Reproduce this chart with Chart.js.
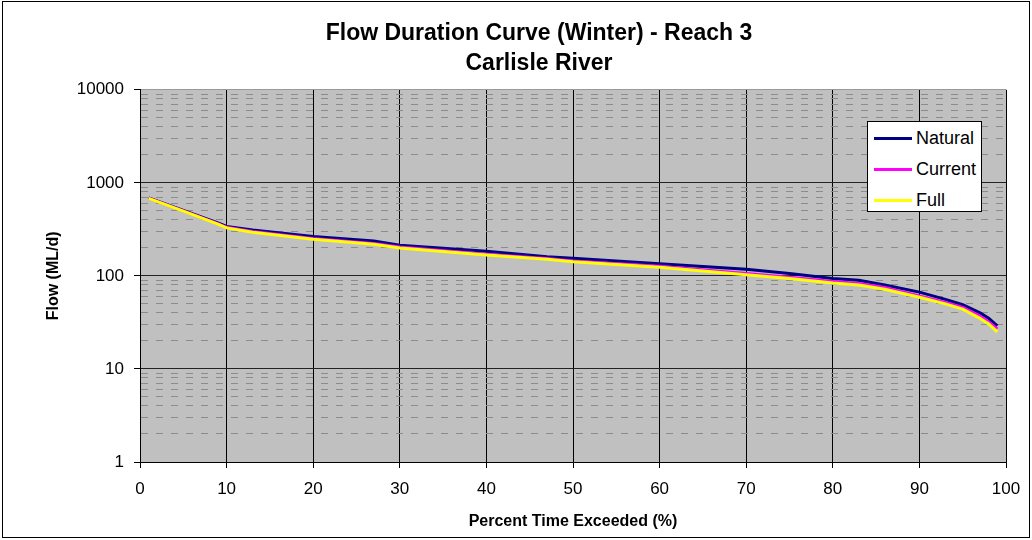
<!DOCTYPE html>
<html>
<head>
<meta charset="utf-8">
<script src="https://cdn.jsdelivr.net/npm/chart.js@4/dist/chart.umd.min.js"></script>
<style>
  body { margin: 0; background: #fff; }
  #wrap { position: relative; width: 1032px; height: 540px; }
  #legend {
    position: absolute; left: 867px; top: 121px; width: 115px; height: 91px;
    box-sizing: border-box; border: 1px solid #000; background: #fff;
    font: 18px "Liberation Sans", Arial, sans-serif; color: #000;
  }
  #legend .row { position: absolute; left: 6px; height: 22px; display: flex; align-items: center; }
  #legend .swatch { width: 38px; height: 3px; margin-right: 4px; }
</style>
</head>
<body>
<div id="wrap">
  <canvas id="flowChart" width="1032" height="540"></canvas>
  <div id="legend"></div>
</div>
<script>
// Percent of time exceeded (x) shared by all three series
const pctExceeded = [1, 5, 9, 10, 13, 20, 27, 30, 40, 47, 50, 60, 70, 75, 80, 83, 86, 90, 93, 95, 97, 98, 99];
const naturalFlow = [690, 505, 372, 340, 312, 265, 237, 214, 184, 161, 155, 135, 118, 106, 94, 90, 80, 67, 56, 49, 40, 35, 29];
const currentFlow = [685, 500, 365, 333, 300, 252, 223, 205, 171, 154, 145, 127, 106, 97, 87, 83, 75, 61, 52, 46, 37, 32, 27];
const fullFlow = [680, 497, 360, 328, 295, 248, 219, 200, 168, 151, 142, 124, 103, 94, 84, 80, 72, 59, 50, 44, 35, 30.5, 25];

const seriesNames = ["Natural", "Current", "Full"];
const seriesColors = ["#000080", "#FF00FF", "#FFFF00"];
const decadeTicks = [1, 10, 100, 1000, 10000];

const FONT = '"Liberation Sans", Arial, sans-serif';

// all 1..9 x decade values for the log grid
const logGridValues = [];
decadeTicks.slice(0, -1).forEach(d => {
  for (let m = 1; m <= 9; m++) logGridValues.push(m * d);
});
logGridValues.push(10000);

const isDecade = v => decadeTicks.includes(v);
const toPoints = ys => ys.map((y, i) => ({ x: pctExceeded[i], y }));

// gray plot area + outer frame
const framePlugin = {
  id: "frame",
  beforeDraw(chart) {
    const { ctx, chartArea: a } = chart;
    ctx.save();
    ctx.fillStyle = "#C0C0C0";
    ctx.fillRect(a.left, a.top, a.right - a.left, a.bottom - a.top);
    ctx.restore();
  },
  afterDraw(chart) {
    const { ctx } = chart;
    ctx.save();
    ctx.strokeStyle = "#000";
    ctx.lineWidth = 1;
    ctx.strokeRect(2.5, 1.5, 1027, 536);
    ctx.restore();
  }
};

const chart = new Chart(document.getElementById("flowChart"), {
  type: "line",
  data: {
    datasets: [
      { label: seriesNames[0], data: toPoints(naturalFlow), borderColor: seriesColors[0], order: 3 },
      { label: seriesNames[1], data: toPoints(currentFlow), borderColor: seriesColors[1], order: 2 },
      { label: seriesNames[2], data: toPoints(fullFlow), borderColor: seriesColors[2], order: 1 }
    ]
  },
  options: {
    responsive: false,
    animation: false,
    layout: { padding: { left: 72, right: 26, top: 4, bottom: 9 } },
    elements: {
      line: { borderWidth: 3, tension: 0, fill: false },
      point: { radius: 0, hoverRadius: 0 }
    },
    plugins: {
      legend: { display: false },
      tooltip: { enabled: false },
      title: {
        display: true,
        text: ["Flow Duration Curve (Winter) - Reach 3", "Carlisle River"],
        color: "#000",
        font: { family: FONT, size: 23, weight: "bold", lineHeight: 1.3 },
        padding: { top: 15, bottom: 11 }
      }
    },
    scales: {
      x: {
        type: "linear",
        min: 0,
        max: 100,
        afterFit: s => { s.height = 69; },
        ticks: { stepSize: 10, color: "#000", padding: 11, font: { family: FONT, size: 17 } },
        grid: { color: "#000", lineWidth: 1, tickLength: 6, tickColor: "#000" },
        border: { color: "#000", width: 1 },
        title: {
          display: true,
          text: "Percent Time Exceeded (%)",
          color: "#000",
          font: { family: FONT, size: 16, weight: "bold" },
          padding: { top: 0, bottom: 0 }
        }
      },
      y: {
        type: "logarithmic",
        min: 1,
        max: 10000,
        afterFit: s => { s.width = 68; },
        afterBuildTicks: s => { s.ticks = logGridValues.map(v => ({ value: v })); },
        ticks: {
          autoSkip: false,
          color: "#000",
          padding: 10,
          font: { family: FONT, size: 17 },
          callback: v => (isDecade(v) ? String(v) : "")
        },
        grid: {
          lineWidth: 1,
          tickLength: 6,
          color: c => {
            const v = c.tick ? c.tick.value : 0;
            if (v === 10000) return "#999";
            return isDecade(v) ? "#222" : "#8c8c8c";
          },
          tickColor: c => (c.tick && isDecade(c.tick.value) ? "#000" : "rgba(0,0,0,0)")
        },
        border: {
          color: "#000",
          width: 1,
          dash: c => (c.tick && !isDecade(c.tick.value) ? [7, 8] : [])
        },
        title: {
          display: true,
          text: "Flow (ML/d)",
          color: "#000",
          font: { family: FONT, size: 16, weight: "bold" },
          padding: { top: -27.6, bottom: 0 }
        }
      }
    }
  },
  plugins: [framePlugin]
});

// Legend box placed inside the plot, built from the datasets
const legend = document.getElementById("legend");
chart.data.datasets.forEach((ds, i) => {
  const row = document.createElement("div");
  row.className = "row";
  row.style.top = (5 + i * 31) + "px";
  const sw = document.createElement("span");
  sw.className = "swatch";
  sw.style.background = ds.borderColor;
  const label = document.createElement("span");
  label.textContent = ds.label;
  row.appendChild(sw);
  row.appendChild(label);
  legend.appendChild(row);
});
</script>
</body>
</html>
